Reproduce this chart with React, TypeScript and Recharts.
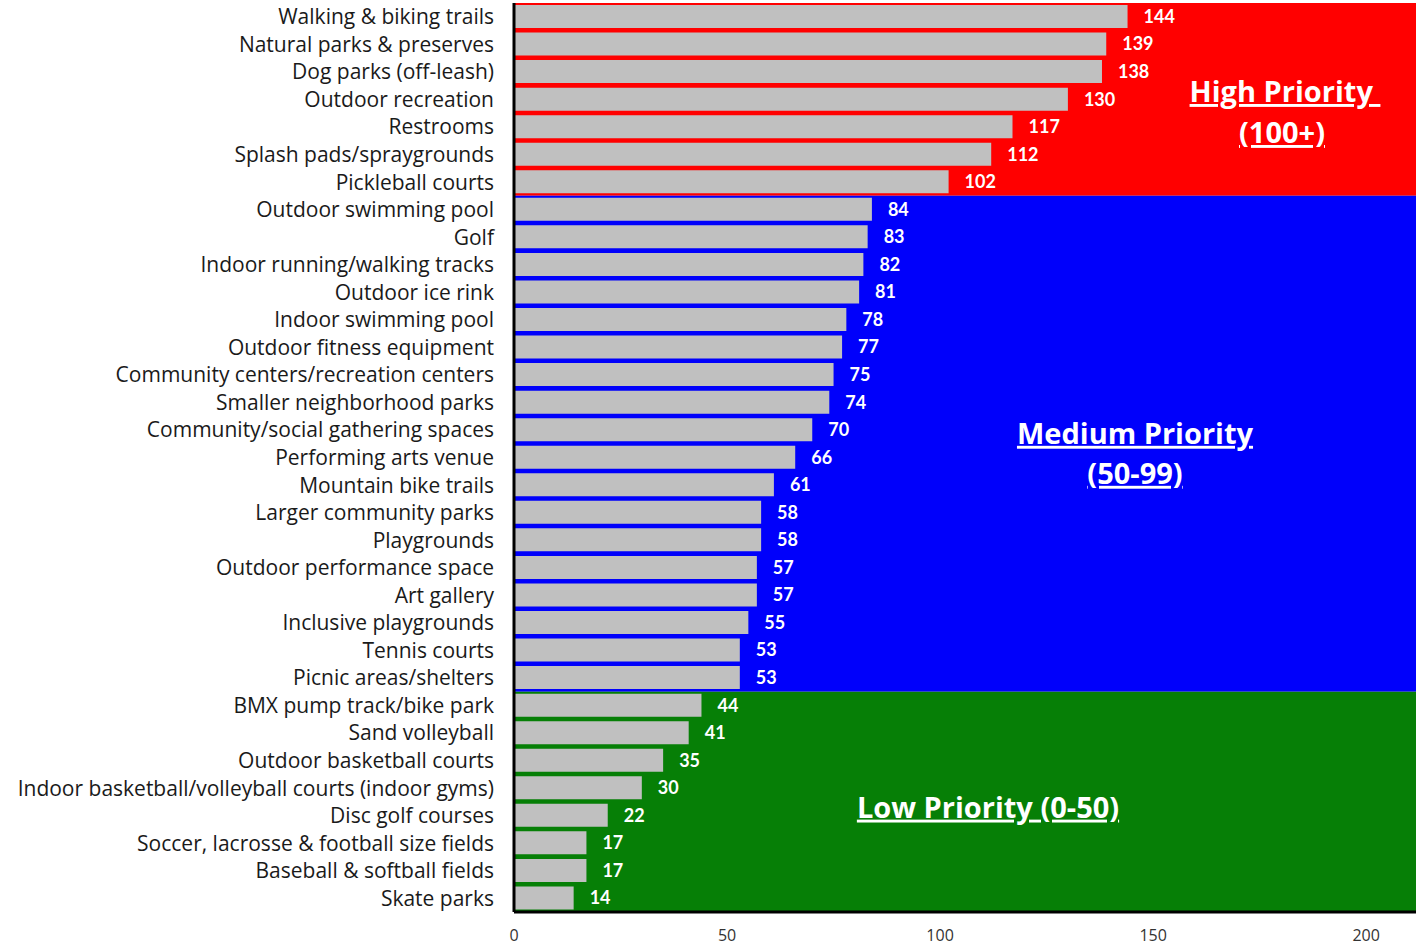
import React from 'react';
import {Bar, BarChart, LabelList, ReferenceArea, XAxis, YAxis} from 'recharts';

const highCategories = [
    'Walking & biking trails',
    'Natural parks & preserves',
    'Dog parks (off-leash)',
    'Outdoor recreation',
    'Restrooms',
    'Splash pads/spraygrounds',
    'Pickleball courts',
];
const highValues = [144, 139, 138, 130, 117, 112, 102];

const mediumCategories = [
    'Outdoor swimming pool',
    'Golf',
    'Indoor running/walking tracks',
    'Outdoor ice rink',
    'Indoor swimming pool',
    'Outdoor fitness equipment',
    'Community centers/recreation centers',
    'Smaller neighborhood parks',
    'Community/social gathering spaces',
    'Performing arts venue',
    'Mountain bike trails',
    'Larger community parks',
    'Playgrounds',
    'Outdoor performance space',
    'Art gallery',
    'Inclusive playgrounds',
    'Tennis courts',
    'Picnic areas/shelters',
];
const mediumValues = [84, 83, 82, 81, 78, 77, 75, 74, 70, 66, 61, 58, 58, 57, 57, 55, 53, 53];

const lowCategories = [
    'BMX pump track/bike park',
    'Sand volleyball',
    'Outdoor basketball courts',
    'Indoor basketball/volleyball courts (indoor gyms)',
    'Disc golf courses',
    'Soccer, lacrosse & football size fields',
    'Baseball & softball fields',
    'Skate parks',
];
const lowValues = [44, 41, 35, 30, 22, 17, 17, 14];

const xTicks = [0, 50, 100, 150, 200];

const categories = [...highCategories, ...mediumCategories, ...lowCategories];
const values = [...highValues, ...mediumValues, ...lowValues];
const data = categories.map((name, i) => ({name, votes: values[i]}));

const FONT = 'Lato, "Open Sans", sans-serif';
const LABEL_FONT = '"Open Sans", Lato, sans-serif';

// lines of the note, with position relative to the area's left/top edge
const noteLabel = (lines: {text: string, dx: number, dy: number}[]) => (props: any) => {
    const vb = props.viewBox || {};
    return (
        <g>
            {lines.map((l, i) => (
                <text key={i} x={vb.x + l.dx} y={vb.y + l.dy} textAnchor="middle" fill="#fff"
                      fontFamily={LABEL_FONT} fontWeight={700} fontSize={29}
                      style={{textDecoration: 'underline', whiteSpace: 'pre'}}>
                    {l.text}
                </text>
            ))}
        </g>
    );
};

const App: React.FC = () => {
    return (
        <div style={{position: 'absolute', left: 0, top: 0, background: '#fff'}}>
            <BarChart width={1416} height={945} data={data} layout="vertical"
                      margin={{top: 3, right: 0, left: 0, bottom: 0}}
                      barCategoryGap={2}>
                <XAxis type="number" domain={[0, 211.7]} ticks={xTicks} allowDataOverflow
                       tickLine={false} tickSize={0} tickMargin={18} height={33}
                       axisLine={{stroke: '#000', strokeWidth: 3}}
                       tick={{fill: '#333', fontSize: 16, fontFamily: LABEL_FONT}}/>
                <XAxis xAxisId="top" orientation="top" type="number" domain={[0, 211.7]} height={0}
                       tick={false} tickLine={false} axisLine={{stroke: '#111', strokeWidth: 2}}/>
                <YAxis type="category" dataKey="name" width={514} interval={0}
                       tickLine={false} tickSize={0} tickMargin={20}
                       axisLine={{stroke: '#000', strokeWidth: 3}}
                       tick={{fill: '#1a1a1a', fontSize: 21, fontFamily: LABEL_FONT}}/>
                <ReferenceArea y1={highCategories[0]} y2={highCategories[highCategories.length - 1]}
                               fill="#ff0000" fillOpacity={1} stroke="none" ifOverflow="visible"
                               label={noteLabel([
                                   {text: 'High Priority ', dx: 771, dy: 99},
                                   {text: '(100+)', dx: 768, dy: 140},
                               ])}/>
                <ReferenceArea y1={mediumCategories[0]} y2={mediumCategories[mediumCategories.length - 1]}
                               fill="#0000fb" fillOpacity={1} stroke="none" ifOverflow="visible"
                               label={noteLabel([
                                   {text: 'Medium Priority', dx: 621, dy: 248},
                                   {text: '(50-99)', dx: 621, dy: 288},
                               ])}/>
                <ReferenceArea y1={lowCategories[0]} y2={lowCategories[lowCategories.length - 1]}
                               fill="#067f06" fillOpacity={1} stroke="none" ifOverflow="visible"
                               label={noteLabel([
                                   {text: 'Low Priority (0-50)', dx: 474, dy: 126},
                               ])}/>
                <Bar dataKey="votes" fill="#c0c0c0" barSize={23} isAnimationActive={false}>
                    <LabelList dataKey="votes" position="right" offset={16} fill="#fff"
                               fontSize={18} fontWeight={700} fontFamily={FONT}/>
                </Bar>
            </BarChart>
        </div>
    );
};

export default App;
